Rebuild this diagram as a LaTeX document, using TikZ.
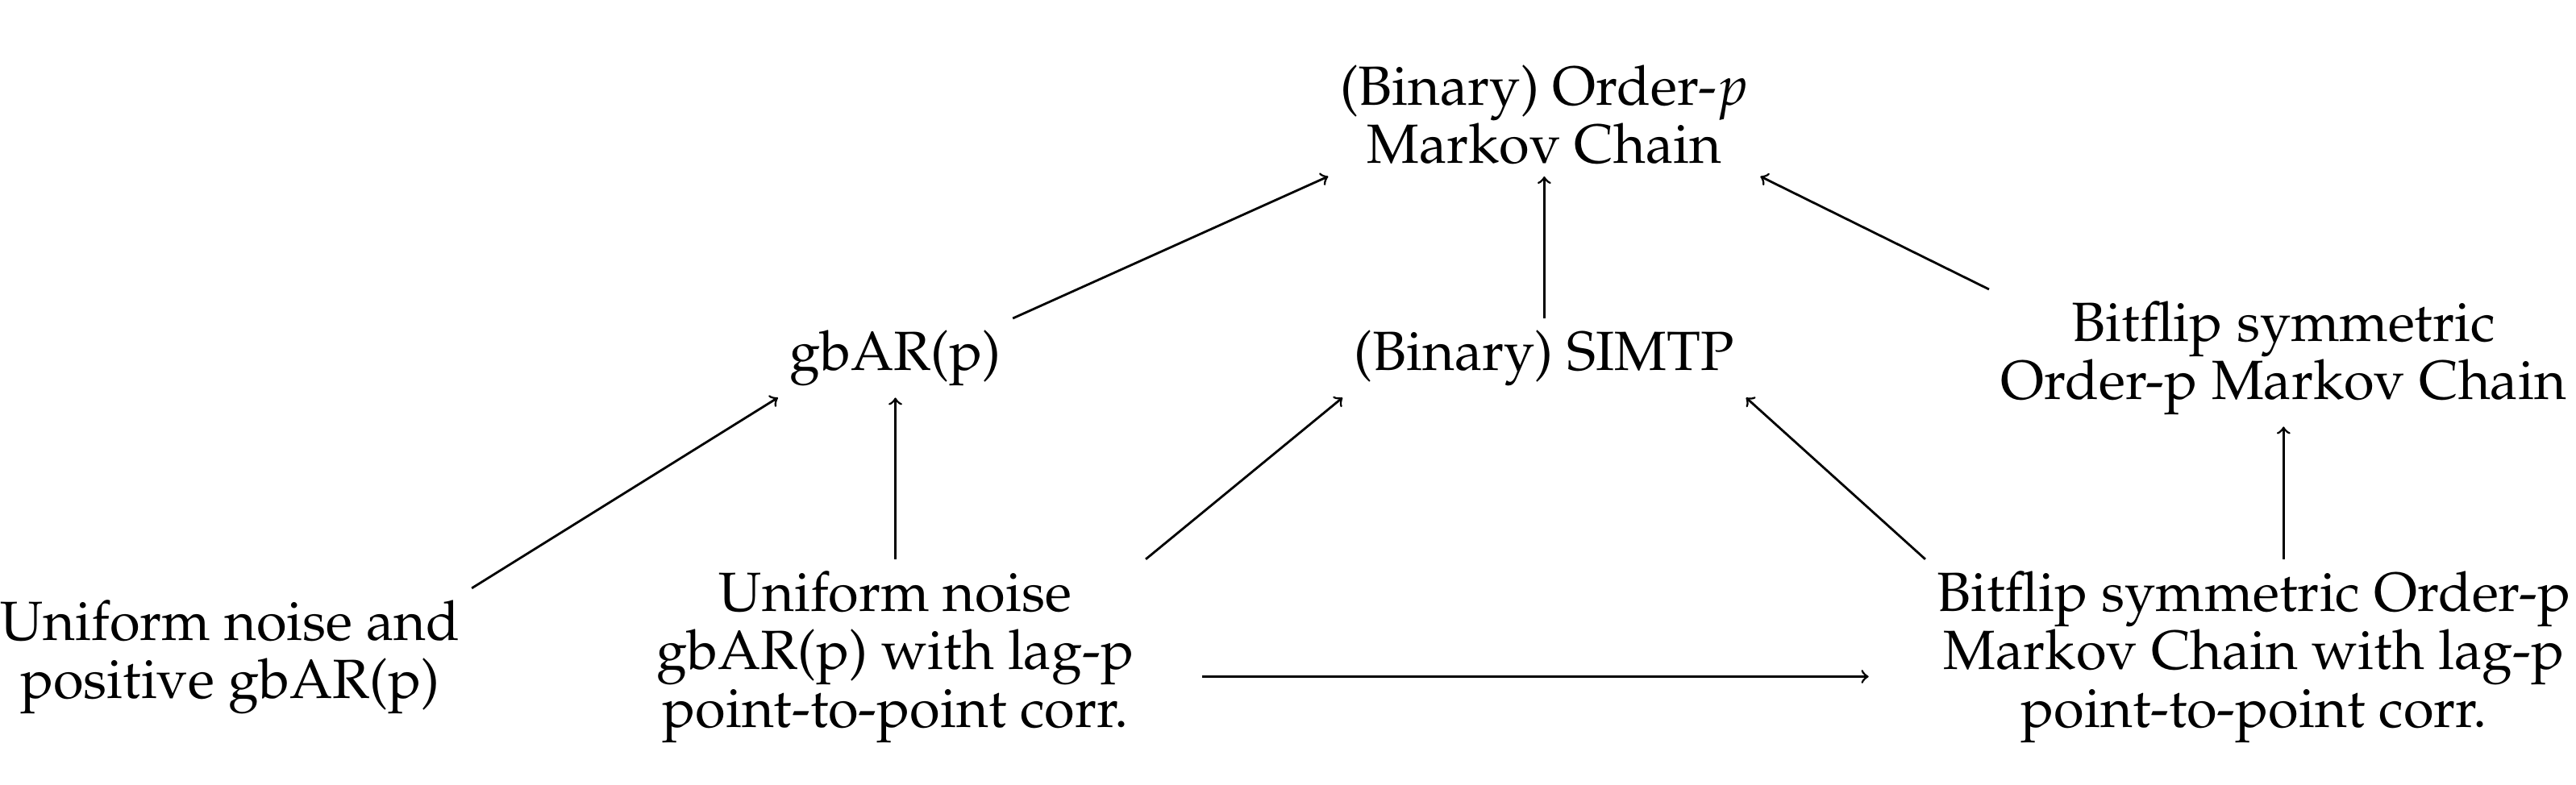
\documentclass[tikz,border=0pt]{standalone}
\usepackage[T1]{fontenc}
\usepackage{mathpazo}
\usetikzlibrary{positioning}
\begin{document}
\begin{tikzpicture}[x=0.02038cm,y=0.02038cm,
    box/.style={align=center,font=\fontsize{19.5}{20.5}\selectfont,inner sep=4pt},
    imp/.style={->,thick}]
  \useasboundingbox (0,0) rectangle (1568,-478);
  \node[box] (top) at (940,-70) {(Binary) Order-$p$\\Markov Chain};
  \node[box] (gbar) at (545,-218) {gbAR(p)};
  \node[box] (simtp) at (940,-218) {(Binary) SIMTP};
  \node[box] (bfsym) at (1390,-218) {Bitflip symmetric\\Order-p Markov Chain};
  \node[box] (upos) at (140,-400) {Uniform noise and\\positive gbAR(p)};
  \node[box] (unoise) at (545,-400) {Uniform noise\\gbAR(p) with lag-p\\point-to-point corr.};
  \node[box] (bfcorr) at (1372,-400) {Bitflip symmetric Order-p\\Markov Chain with lag-p\\point-to-point corr.};
  % implications
  \draw[imp] (gbar.north east) -- (top.south west);
  \draw[imp] (simtp) -- (top);
  \draw[imp] (bfsym.north west) -- (top.south east);
  \draw[imp] (upos.north east) -- (gbar.south west);
  \draw[imp] (unoise.north -| gbar) -- (gbar);
  \draw[imp] (unoise.north east) -- (simtp.south west);
  \draw[imp] (bfcorr.north west) -- (simtp.south east);
  \draw[imp] (bfcorr.north -| bfsym) -- (bfsym);
  \draw[imp,shorten <=20pt,shorten >=20pt] (unoise.east) ++(0,-12) coordinate (ue) (ue) -- (ue -| bfcorr.west);
\end{tikzpicture}
\end{document}
